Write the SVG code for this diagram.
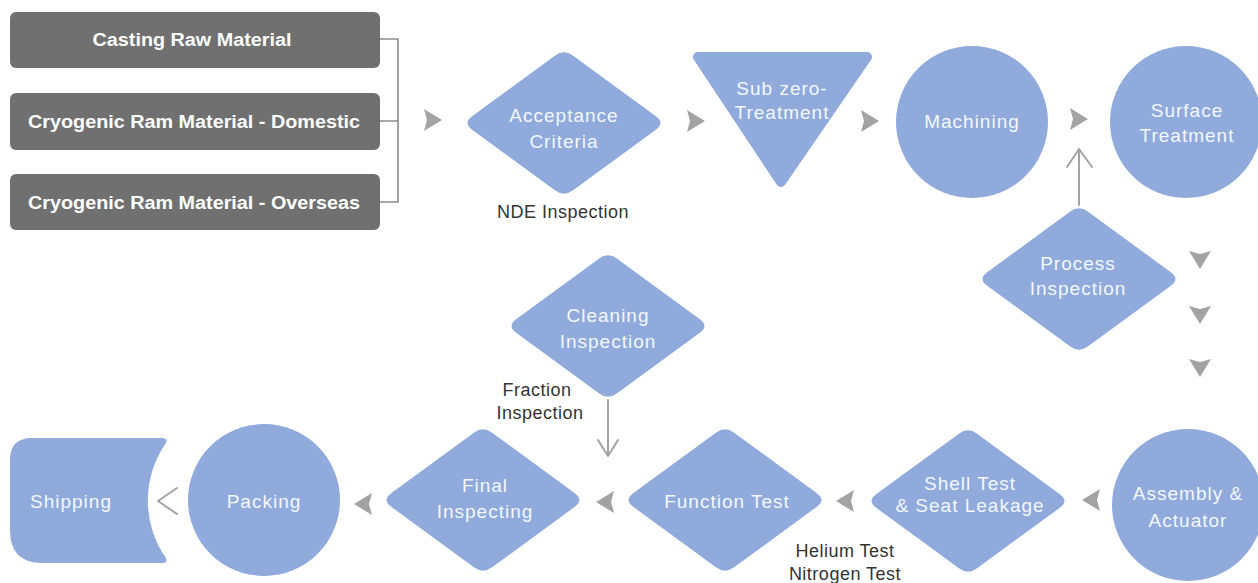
<svg xmlns="http://www.w3.org/2000/svg" width="1258" height="583" viewBox="0 0 1258 583">
<style>
.box{fill:#707070}
.blue{fill:#8FAADB}
.bt{font-family:"Liberation Sans",Arial,sans-serif;font-weight:bold;font-size:18px;fill:#ffffff;text-anchor:middle}
.nt{font-family:"Liberation Sans",Arial,sans-serif;font-size:19px;fill:#f4f7fc;text-anchor:middle;letter-spacing:1px}
.dt{font-family:"Liberation Sans",Arial,sans-serif;font-size:18px;fill:#333333;text-anchor:middle;letter-spacing:0.5px}
.arr{fill:#a3a3a3}
.ln{fill:none;stroke:#a3a3a3;stroke-width:2;stroke-linecap:round;stroke-linejoin:round}
.br{fill:none;stroke:#8a8a8a;stroke-width:1.6}
</style>
<defs>
<path id="dia" d="M91.9,-6.7 Q101,0 91.9,6.7 L9.1,67.3 Q0,74 -9.1,67.3 L-91.9,6.7 Q-101,0 -91.9,-6.7 L-9.1,-67.3 Q0,-74 9.1,-67.3 Z"/>
<path id="ah" d="M-8,-11 L10,0 L-8,11 L-5,0 Z"/>
</defs>
<rect width="1258" height="583" fill="#ffffff"/>

<g id="connectors">
<path class="br" d="M380,39 H398 V202 H380 M380,121 H398"/>
<use href="#ah" class="arr" transform="translate(432,120)"/>
<use href="#ah" class="arr" transform="translate(695,121)"/>
<use href="#ah" class="arr" transform="translate(869,121)"/>
<use href="#ah" class="arr" transform="translate(1078,119)"/>
<use href="#ah" class="arr" transform="translate(1200,259) rotate(90)"/>
<use href="#ah" class="arr" transform="translate(1200,314) rotate(90)"/>
<use href="#ah" class="arr" transform="translate(1200,367) rotate(90)"/>
<use href="#ah" class="arr" transform="translate(1092,500) rotate(180)"/>
<use href="#ah" class="arr" transform="translate(846,501) rotate(180)"/>
<use href="#ah" class="arr" transform="translate(606,502) rotate(180)"/>
<use href="#ah" class="arr" transform="translate(364,504) rotate(180)"/>
<path class="ln" d="M1079,205 V149 M1067,167 L1079,149 L1092,167"/>
<path class="ln" d="M608,400 V456 M598,440 L608,456 L618,440"/>
<path class="ln" d="M177,488 L158,501 L177,514"/>
</g>

<g id="n-casting"><rect class="box" x="10" y="12" width="370" height="56" rx="6"/><text class="bt" x="192" y="46" textLength="199" lengthAdjust="spacingAndGlyphs">Casting Raw Material</text></g>
<g id="n-domestic"><rect class="box" x="10" y="93" width="370" height="57" rx="6"/><text class="bt" x="194" y="128" textLength="332" lengthAdjust="spacingAndGlyphs">Cryogenic Ram Material - Domestic</text></g>
<g id="n-overseas"><rect class="box" x="10" y="174" width="370" height="56" rx="6"/><text class="bt" x="194" y="209" textLength="332" lengthAdjust="spacingAndGlyphs">Cryogenic Ram Material - Overseas</text></g>

<g id="n-acceptance"><use href="#dia" class="blue" transform="translate(564,123)"/><text class="nt" x="564" y="122">Acceptance</text><text class="nt" x="564" y="148">Criteria</text></g>
<text class="dt" x="563" y="218">NDE Inspection</text>

<g id="n-subzero"><polygon class="blue" points="698,57 867,57 781,182" stroke="#8FAADB" stroke-width="10" stroke-linejoin="round"/><text class="nt" x="782" y="95">Sub zero-</text><text class="nt" x="782" y="119">Treatment</text></g>

<g id="n-machining"><circle class="blue" cx="972" cy="122" r="76"/><text class="nt" x="972" y="128">Machining</text></g>
<g id="n-surface"><circle class="blue" cx="1186" cy="122" r="76"/><text class="nt" x="1187" y="117">Surface</text><text class="nt" x="1187" y="142">Treatment</text></g>

<g id="n-process"><use href="#dia" class="blue" transform="translate(1079,279)"/><text class="nt" x="1078" y="270">Process</text><text class="nt" x="1078" y="295">Inspection</text></g>

<g id="n-cleaning"><use href="#dia" class="blue" transform="translate(608,326)"/><text class="nt" x="608" y="322">Cleaning</text><text class="nt" x="608" y="348">Inspection</text></g>
<text class="dt" x="537" y="396">Fraction</text>
<text class="dt" x="540" y="419">Inspection</text>

<g id="n-assembly"><circle class="blue" cx="1188" cy="505" r="76"/><text class="nt" x="1188" y="500">Assembly  &amp;</text><text class="nt" x="1188" y="527">Actuator</text></g>
<g id="n-shell"><use href="#dia" class="blue" transform="translate(968,501)"/><text class="nt" x="970" y="490">Shell Test</text><text class="nt" x="970" y="512">&amp; Seat Leakage</text></g>
<text class="dt" x="845" y="557">Helium Test</text>
<text class="dt" x="845" y="580">Nitrogen Test</text>
<g id="n-function"><use href="#dia" class="blue" transform="translate(725,500)"/><text class="nt" x="727" y="508">Function  Test</text></g>
<g id="n-final"><use href="#dia" class="blue" transform="translate(483,500)"/><text class="nt" x="485" y="492">Final</text><text class="nt" x="485" y="518">Inspecting</text></g>
<g id="n-packing"><circle class="blue" cx="264" cy="500" r="76"/><text class="nt" x="264" y="508">Packing</text></g>
<g id="n-shipping"><path class="blue" d="M32,438 H162 Q168,438 166,443 A100 100 0 0 0 166,558 Q168,563 162,563 H42 Q10,563 10,530 V460 Q10,438 32,438 Z"/><text class="nt" x="71" y="508">Shipping</text></g>
</svg>
